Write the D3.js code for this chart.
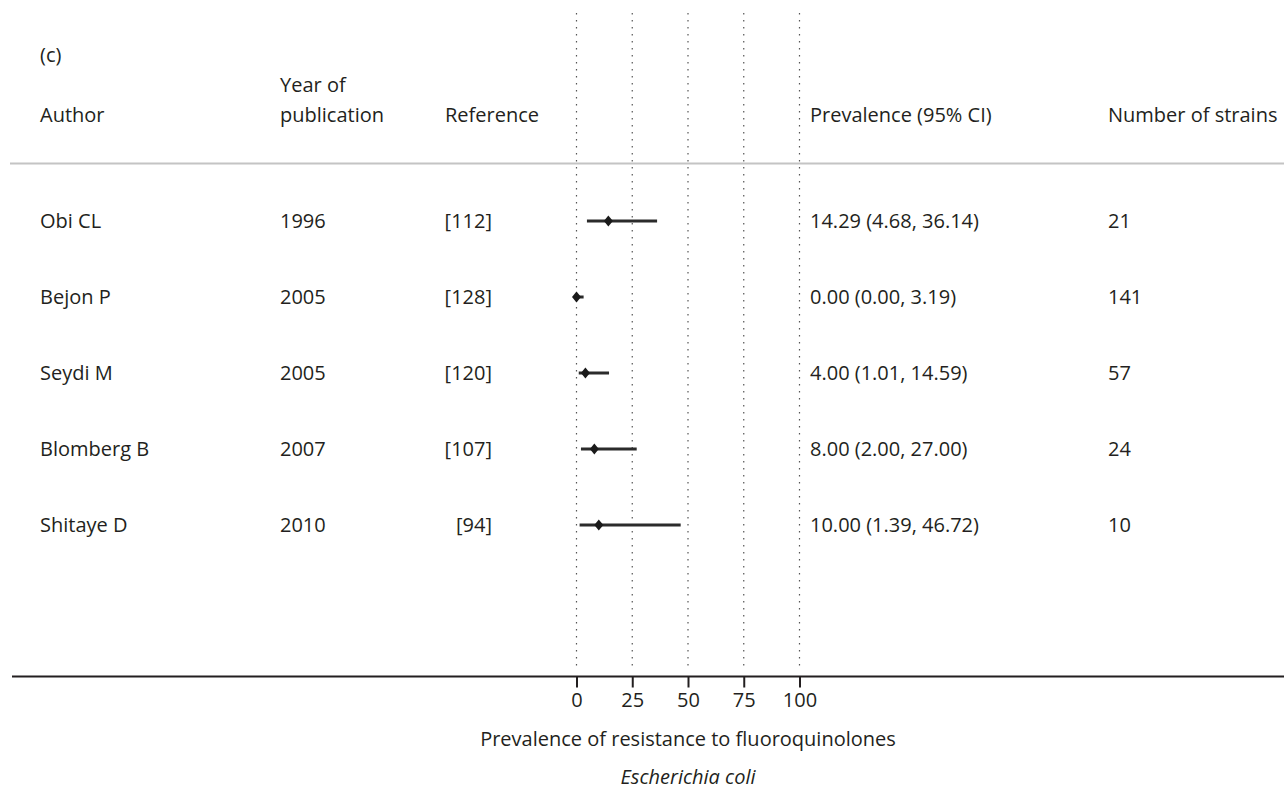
<!DOCTYPE html>
<html>
<head>
<meta charset="utf-8">
<script src="https://cdn.jsdelivr.net/npm/d3@7"></script>
<style>
  html, body { margin: 0; padding: 0; background: #fff; }
  svg text { font-family: "Open Sans", "Noto Sans", sans-serif; fill: #231f20; }
</style>
</head>
<body>
<svg id="chart" width="1284" height="791"></svg>
<script>
// Studies reporting fluoroquinolone resistance in Escherichia coli
const authors    = ["Obi CL", "Bejon P", "Seydi M", "Blomberg B", "Shitaye D"];
const years      = ["1996", "2005", "2005", "2007", "2010"];
const references = ["[112]", "[128]", "[120]", "[107]", "[94]"];
const prevalence = [14.29, 0.00, 4.00, 8.00, 10.00];
const ciLower    = [4.68, 0.00, 1.01, 2.00, 1.39];
const ciUpper    = [36.14, 3.19, 14.59, 27.00, 46.72];
const strains    = ["21", "141", "57", "24", "10"];
const xTicks     = [0, 25, 50, 75, 100];

const svg = d3.select("#chart");
const fs = 20;

const x = d3.scaleLinear().domain([0, 100]).range([576.5, 799.5]);
const y = d3.scalePoint().domain(d3.range(authors.length)).range([221, 525]);

// vertical dotted reference lines
svg.append("g").selectAll("line").data(xTicks).join("line")
  .attr("x1", d => x(d)).attr("x2", d => x(d))
  .attr("y1", 13).attr("y2", 670)
  .attr("stroke", "#555").attr("stroke-width", 1.2)
  .attr("stroke-dasharray", "1.5,5.5");

// panel label and column headers
const hdr = svg.append("g").attr("font-size", fs);
hdr.append("text").attr("x", 40).attr("y", 55).attr("dy", "0.35em").text("(c)");
hdr.append("text").attr("x", 40).attr("y", 115).attr("dy", "0.35em").text("Author");
hdr.append("text").attr("x", 280).attr("y", 85).attr("dy", "0.35em").text("Year of");
hdr.append("text").attr("x", 280).attr("y", 115).attr("dy", "0.35em").text("publication");
hdr.append("text").attr("x", 445).attr("y", 115).attr("dy", "0.35em").text("Reference");
hdr.append("text").attr("x", 810).attr("y", 115).attr("dy", "0.35em").text("Prevalence (95% CI)");
hdr.append("text").attr("x", 1108).attr("y", 115).attr("dy", "0.35em").text("Number of strains");

svg.append("line").attr("x1", 10).attr("x2", 1284).attr("y1", 163.5).attr("y2", 163.5)
  .attr("stroke", "#c4c4c4").attr("stroke-width", 2);

// study rows
const rows = svg.append("g").selectAll("g").data(authors.map((a, i) => i)).join("g")
  .attr("transform", i => `translate(0,${y(i)})`)
  .attr("font-size", fs);

rows.append("text").attr("x", 40).attr("dy", "0.35em").text(i => authors[i]);
rows.append("text").attr("x", 280).attr("dy", "0.35em").text(i => years[i]);
rows.append("text").attr("x", 492).attr("dy", "0.35em").attr("text-anchor", "end").text(i => references[i]);
rows.append("text").attr("x", 810).attr("dy", "0.35em")
  .text(i => `${prevalence[i].toFixed(2)} (${ciLower[i].toFixed(2)}, ${ciUpper[i].toFixed(2)})`);
rows.append("text").attr("x", 1108).attr("dy", "0.35em").text(i => strains[i]);

// confidence intervals and point estimates
rows.append("line")
  .attr("x1", i => x(ciLower[i])).attr("x2", i => x(ciUpper[i]))
  .attr("y1", 0).attr("y2", 0)
  .attr("stroke", "#2b2b2b").attr("stroke-width", 3);
rows.append("path")
  .attr("transform", i => `translate(${x(prevalence[i])},0)`)
  .attr("d", "M0,-5.5L4.5,0L0,5.5L-4.5,0Z")
  .attr("fill", "#1a1a1a");

// x axis
const axisY = 676.5;
svg.append("line").attr("x1", 12).attr("x2", 1284).attr("y1", axisY).attr("y2", axisY)
  .attr("stroke", "#231f20").attr("stroke-width", 2);
const axis = svg.append("g").attr("transform", `translate(0,${axisY})`)
  .call(d3.axisBottom(x).tickValues(xTicks).tickSize(11).tickPadding(5).tickFormat(d3.format("d")));
axis.select(".domain").remove();
axis.selectAll(".tick line").attr("stroke", "#231f20").attr("stroke-width", 2);
axis.selectAll(".tick text").attr("font-size", fs).attr("font-family", null).style("fill", "#231f20");

svg.append("text").attr("x", 688).attr("y", 739).attr("dy", "0.35em").attr("text-anchor", "middle")
  .attr("font-size", fs).text("Prevalence of resistance to fluoroquinolones");
svg.append("text").attr("x", 688).attr("y", 777).attr("dy", "0.35em").attr("text-anchor", "middle")
  .attr("font-size", fs).attr("font-style", "italic").text("Escherichia coli");
</script>
</body>
</html>
